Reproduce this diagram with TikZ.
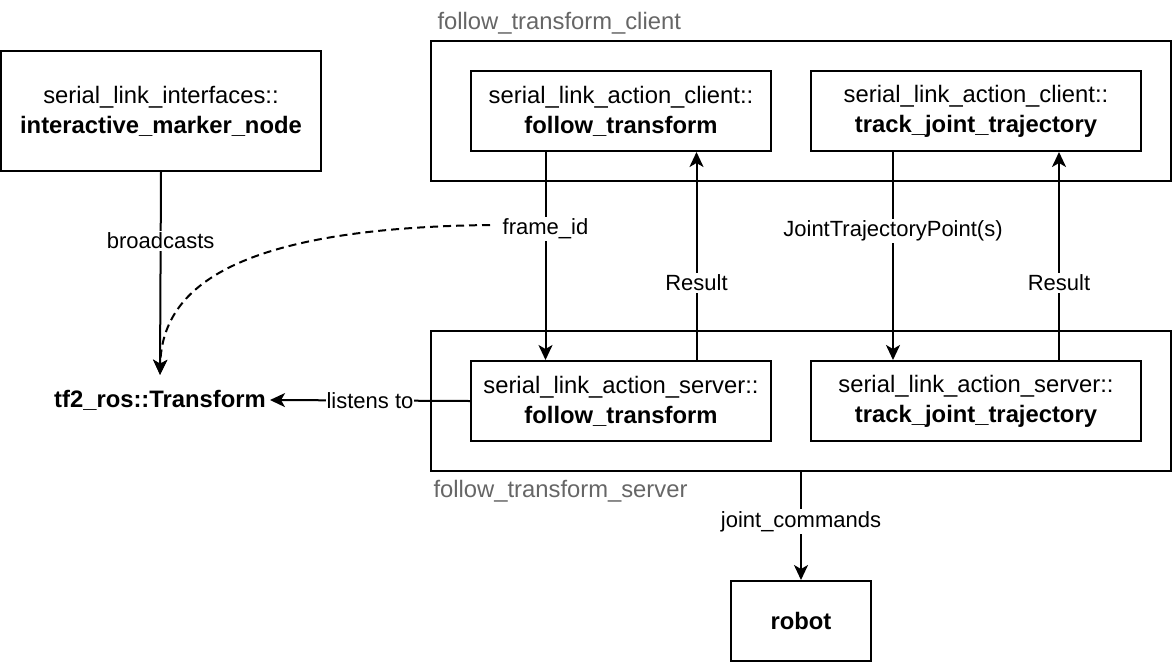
\documentclass[tikz,border=0pt]{standalone}
\usepackage{fontspec}
\setmainfont{Liberation Sans}
\usetikzlibrary{positioning,arrows.meta,calc}

\begin{document}
\begin{tikzpicture}[x=1pt, y=-1pt,
    every node/.style={font=\fontsize{23.8}{30}\selectfont},
    box/.style={draw, line width=2pt, align=center, inner sep=0pt},
    group/.style={draw, line width=2pt, minimum width=740, minimum height=140},
    grouplabel/.style={font=\fontsize{23.8}{30}\selectfont, text=black!60},
    arrow/.style={-{Stealth[length=15pt, width=14pt, inset=4pt]}, line width=2pt},
    lbl/.style={fill=white, inner sep=2pt, font=\fontsize{22}{26}\selectfont},
]
\useasboundingbox (0,0) rectangle (1172,662);

% Client group
\node[group, label={[grouplabel, anchor=south west, xshift=4pt, yshift=2pt]north west:follow\_transform\_client}] (cgroup) at (801,111) {};
\node[box, minimum width=300, minimum height=80] (cft) at (621,111) {serial\_link\_action\_client::\\\textbf{follow\_transform}};
\node[box, minimum width=330, minimum height=80] (cjt) at (976,111) {serial\_link\_action\_client::\\\textbf{track\_joint\_trajectory}};

% Server group
\node[group, label={[grouplabel, anchor=north west, xshift=0pt, yshift=-5pt]south west:follow\_transform\_server}] (sgroup) at (801,401) {};
\node[box, minimum width=300, minimum height=80] (sft) at (621,401) {serial\_link\_action\_server::\\\textbf{follow\_transform}};
\node[box, minimum width=330, minimum height=80] (sjt) at (976,401) {serial\_link\_action\_server::\\\textbf{track\_joint\_trajectory}};

% Marker node, tf and robot
\node[box, minimum width=320, minimum height=120] (marker) at (161,111) {serial\_link\_interfaces::\\\textbf{interactive\_marker\_node}};
\node[inner sep=4pt, minimum height=50] (tf) at (160,400) {\textbf{tf2\_ros::Transform}};
\node[box, minimum width=140, minimum height=80] (robot) at (801,621) {\textbf{robot}};
\coordinate (fstart) at (490,225);

% Arrows
\draw[arrow] (marker.south) -- node[lbl, pos=0.34]{broadcasts} (tf.north);
\draw[arrow, dash pattern=on 8pt off 5pt] (fstart) .. controls (230,228) and (162,290) .. (tf.north);
\draw[arrow] ($(cft.south west)!.25!(cft.south east)$) -- node[lbl, pos=0.37]{frame\_id} ($(sft.north west)!.25!(sft.north east)$);
\draw[arrow] ($(sft.north west)!.75!(sft.north east)$) -- node[lbl, pos=0.37]{Result} ($(cft.south west)!.75!(cft.south east)$);
\draw[arrow] ($(cjt.south west)!.25!(cjt.south east)$) -- node[lbl, pos=0.38]{JointTrajectoryPoint(s)} ($(sjt.north west)!.25!(sjt.north east)$);
\draw[arrow] ($(sjt.north west)!.75!(sjt.north east)$) -- node[lbl, pos=0.37]{Result} ($(cjt.south west)!.75!(cjt.south east)$);
\draw[arrow] (sft.west) -- node[lbl, inner sep=1pt]{listens to} (tf.east);
\draw[arrow] (sgroup.south) -- node[lbl, pos=0.46]{joint\_commands} (robot.north);

\end{tikzpicture}
\end{document}
